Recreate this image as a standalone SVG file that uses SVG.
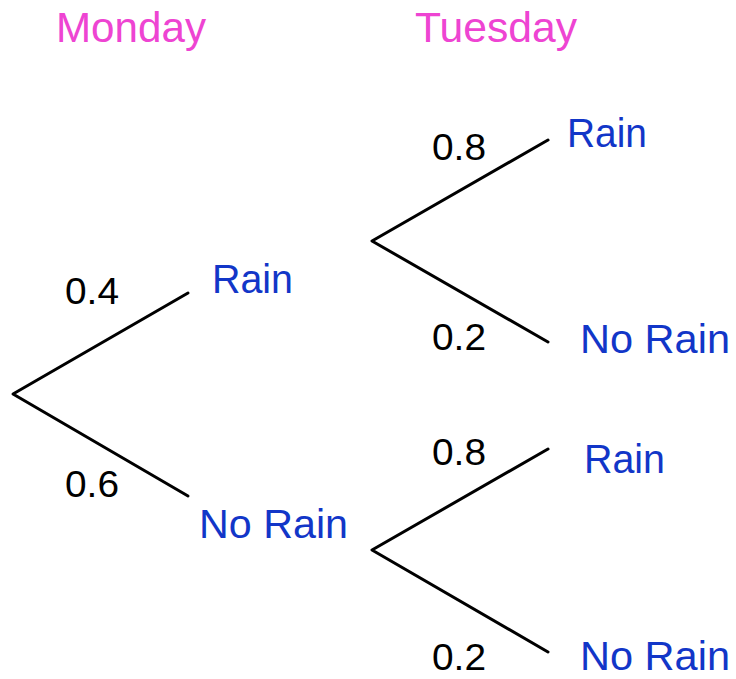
<svg xmlns="http://www.w3.org/2000/svg" width="736" height="679" viewBox="0 0 736 679">
<style>
.t{font-family:"Liberation Sans",Arial,sans-serif}
.day{fill:#EE44D2;font-size:42px}
.lab{fill:#1236C8;font-size:41px}
.p{fill:#000;font-size:37px}
.c{stroke:#000;stroke-width:3;fill:none;stroke-linecap:round;stroke-linejoin:round}
</style>
<rect width="736" height="679" fill="#fff"/>
<g id="headers" class="t">
<text class="day" x="56" y="42" textLength="150" lengthAdjust="spacingAndGlyphs">Monday</text>
<text class="day" x="415" y="42" textLength="162" lengthAdjust="spacingAndGlyphs">Tuesday</text>
</g>
<g id="connectors">
<polyline class="c" points="188,293 13,394 188,496"/>
<polyline class="c" points="548,140 372,241 548,342"/>
<polyline class="c" points="548,449 372,550 548,652"/>
</g>
<g id="root"/>
<g id="mon-rain" class="t"><text class="lab" x="212" y="293" textLength="81" lengthAdjust="spacingAndGlyphs">Rain</text></g>
<g id="mon-norain" class="t"><text class="lab" x="199" y="538" textLength="149" lengthAdjust="spacingAndGlyphs">No Rain</text></g>
<g id="tue-rain-1" class="t"><text class="lab" x="567" y="147" textLength="80" lengthAdjust="spacingAndGlyphs">Rain</text></g>
<g id="tue-norain-1" class="t"><text class="lab" x="580" y="353" textLength="150" lengthAdjust="spacingAndGlyphs">No Rain</text></g>
<g id="tue-rain-2" class="t"><text class="lab" x="584" y="473" textLength="81" lengthAdjust="spacingAndGlyphs">Rain</text></g>
<g id="tue-norain-2" class="t"><text class="lab" x="580" y="670" textLength="150" lengthAdjust="spacingAndGlyphs">No Rain</text></g>
<g id="probs" class="t">
<text class="p" x="65" y="304" textLength="54" lengthAdjust="spacingAndGlyphs">0.4</text>
<text class="p" x="65" y="497" textLength="54" lengthAdjust="spacingAndGlyphs">0.6</text>
<text class="p" x="432" y="160" textLength="54" lengthAdjust="spacingAndGlyphs">0.8</text>
<text class="p" x="432" y="350" textLength="54" lengthAdjust="spacingAndGlyphs">0.2</text>
<text class="p" x="432" y="465" textLength="54" lengthAdjust="spacingAndGlyphs">0.8</text>
<text class="p" x="432" y="670" textLength="54" lengthAdjust="spacingAndGlyphs">0.2</text>
</g>
</svg>
